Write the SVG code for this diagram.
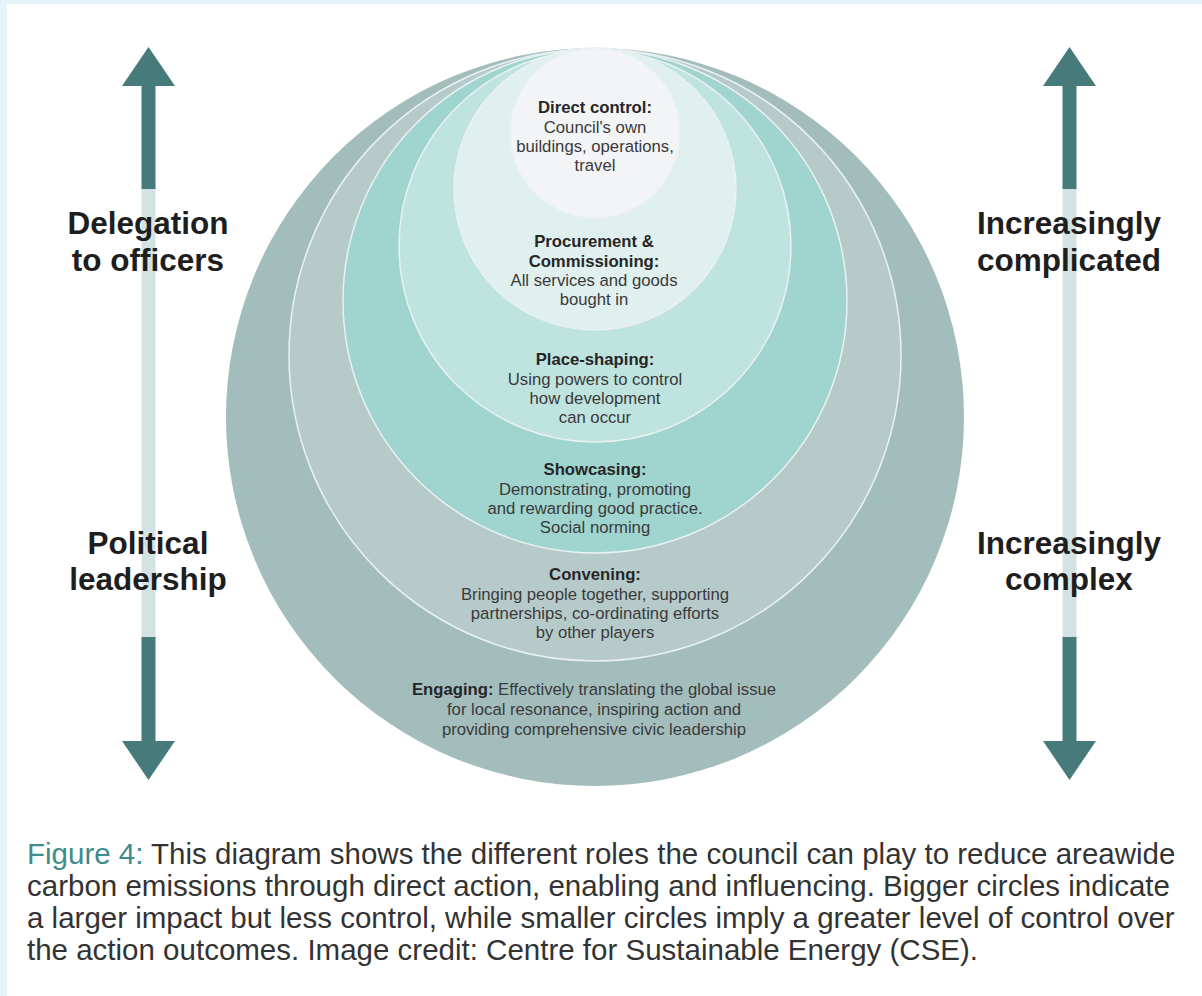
<svg xmlns="http://www.w3.org/2000/svg" width="1202" height="996" viewBox="0 0 1202 996">
<style>
.t{font-family:"Liberation Sans",Arial,sans-serif;font-size:16.7px;fill:#3a3a3a;text-anchor:middle}
.b{font-weight:bold;fill:#262626}
.lab{font-family:"Liberation Sans",Arial,sans-serif;font-size:31.5px;font-weight:bold;fill:#1e1e1e;text-anchor:middle}
.cap{font-family:"Liberation Sans",Arial,sans-serif;font-size:29.5px;fill:#333}
.ring{stroke:#e9f1f1;stroke-width:1.5}
.dark{fill:#477a7a}
.light{fill:#d3e3e3}
</style>
<rect x="0" y="0" width="1202" height="996" fill="#e6f3fb"/>
<rect x="7" y="4" width="1195" height="992" fill="#ffffff"/>

<g id="connectors">
  <g id="arrow-left">
    <rect class="light" x="141.5" y="188" width="14" height="450"/>
    <rect class="dark" x="141.5" y="84" width="14" height="105"/>
    <polygon class="dark" points="148.5,47 175,86 122,86"/>
    <rect class="dark" x="141.5" y="637" width="14" height="106"/>
    <polygon class="dark" points="122,741 175,741 148.5,780"/>
  </g>
  <g id="arrow-right">
    <rect class="light" x="1062.5" y="188" width="14" height="450"/>
    <rect class="dark" x="1062.5" y="84" width="14" height="105"/>
    <polygon class="dark" points="1069.5,47 1096,86 1043,86"/>
    <rect class="dark" x="1062.5" y="637" width="14" height="106"/>
    <polygon class="dark" points="1043,741 1096,741 1069.5,780"/>
  </g>
</g>

<g id="engaging">
  <circle cx="595" cy="417" r="369" fill="#a3bdbd"/>
  <text class="t" x="594" y="695"><tspan class="b">Engaging:</tspan> Effectively translating the global issue</text>
  <text class="t" x="594" y="715">for local resonance, inspiring action and</text>
  <text class="t" x="594" y="735">providing comprehensive civic leadership</text>
</g>
<g id="convening">
  <circle class="ring" cx="595" cy="355" r="306" fill="#b6caca"/>
  <text class="t b" x="595" y="580">Convening:</text>
  <text class="t" x="595" y="600">Bringing people together, supporting</text>
  <text class="t" x="595" y="619">partnerships, co-ordinating efforts</text>
  <text class="t" x="595" y="638">by other players</text>
</g>
<g id="showcasing">
  <circle class="ring" cx="595" cy="301" r="252" fill="#a0d4cf"/>
  <text class="t b" x="595" y="475">Showcasing:</text>
  <text class="t" x="595" y="495">Demonstrating, promoting</text>
  <text class="t" x="595" y="514">and rewarding good practice.</text>
  <text class="t" x="595" y="533">Social norming</text>
</g>
<g id="place-shaping">
  <circle class="ring" cx="595" cy="246" r="196" fill="#bfe3df"/>
  <text class="t b" x="595" y="365">Place-shaping:</text>
  <text class="t" x="595" y="385">Using powers to control</text>
  <text class="t" x="595" y="404">how development</text>
  <text class="t" x="595" y="423">can occur</text>
</g>
<g id="procurement">
  <circle class="ring" cx="595" cy="189" r="141" fill="#e0f0ee"/>
  <text class="t b" x="594" y="247">Procurement &amp;</text>
  <text class="t b" x="594" y="267">Commissioning:</text>
  <text class="t" x="594" y="286">All services and goods</text>
  <text class="t" x="594" y="305">bought in</text>
</g>
<g id="direct-control">
  <circle class="ring" cx="595" cy="133" r="85" fill="#f3f4f6"/>
  <text class="t b" x="595" y="113">Direct control:</text>
  <text class="t" x="595" y="133">Council's own</text>
  <text class="t" x="595" y="152">buildings, operations,</text>
  <text class="t" x="595" y="171">travel</text>
</g>

<g id="label-delegation">
  <text class="lab" x="148" y="234">Delegation</text>
  <text class="lab" x="148" y="271">to officers</text>
</g>
<g id="label-political">
  <text class="lab" x="148" y="554">Political</text>
  <text class="lab" x="148" y="590">leadership</text>
</g>
<g id="label-complicated">
  <text class="lab" x="1069" y="234">Increasingly</text>
  <text class="lab" x="1069" y="271">complicated</text>
</g>
<g id="label-complex">
  <text class="lab" x="1069" y="554">Increasingly</text>
  <text class="lab" x="1069" y="590">complex</text>
</g>

<g id="caption">
  <text class="cap" x="27" y="864"><tspan fill="#3f8c8c">Figure 4:</tspan> This diagram shows the different roles the council can play to reduce areawide</text>
  <text class="cap" x="27" y="896">carbon emissions through direct action, enabling and influencing. Bigger circles indicate</text>
  <text class="cap" x="27" y="928">a larger impact but less control, while smaller circles imply a greater level of control over</text>
  <text class="cap" x="27" y="960">the action outcomes. Image credit: Centre for Sustainable Energy (CSE).</text>
</g>
</svg>
